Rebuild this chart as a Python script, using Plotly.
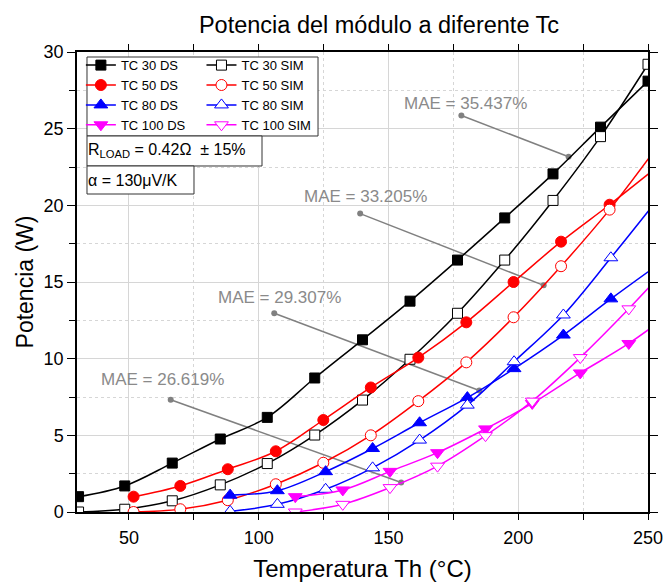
import plotly.graph_objects as go

# Temperatures (Th, degC) and power (W)
t_30 = [30.6, 48.4, 66.7, 85.2, 103.3, 121.6, 140.0, 158.3, 176.6, 194.8, 213.4, 231.7, 250.0]
p_30_ds = [1.0, 1.70, 3.19, 4.76, 6.17, 8.74, 11.23, 13.75, 16.43, 19.18, 22.05, 25.1, 28.1]
p_30_sim = [0.0, 0.18, 0.73, 1.77, 3.16, 5.02, 7.3, 9.96, 12.96, 16.43, 20.32, 24.48, 29.2]

t_50 = [51.8, 69.8, 88.1, 106.6, 124.9, 143.2, 161.5, 180.0, 198.2, 216.5, 235.2, 253.5]
p_50_ds = [1.0, 1.70, 2.79, 3.96, 6.0, 8.12, 10.07, 12.37, 15.0, 17.63, 20.04, 22.5]
p_50_sim = [0.0, 0.18, 0.77, 1.81, 3.21, 5.0, 7.23, 9.76, 12.7, 16.03, 19.72, 23.8]

t_80 = [89.0, 107.2, 125.8, 143.9, 162.0, 180.4, 198.4, 217.4, 235.7, 254.0]
p_80_ds = [1.1, 1.39, 2.63, 4.14, 5.82, 7.46, 9.35, 11.54, 13.9, 16.15]
p_80_sim = [0.04, 0.5, 1.48, 2.88, 4.69, 6.97, 9.8, 12.85, 16.58, 20.45]

t_100 = [114.1, 132.4, 150.6, 168.9, 187.4, 205.4, 223.9, 242.6, 261.0]
p_100_ds = [1.0, 1.44, 2.65, 3.87, 5.42, 7.08, 9.07, 10.99, 13.25]
p_100_sim = [0.0, 0.5, 1.59, 2.99, 4.98, 7.23, 10.07, 13.25, 16.6]

# MAE callouts
mae_text = ["MAE = 35.437%", "MAE = 33.205%", "MAE = 29.307%", "MAE = 26.619%"]
mae_text_x = [179.5, 141.1, 108.2, 62.9]
mae_text_y = [26.64, 20.6, 14.01, 8.63]
mae_x0 = [178.1, 139.1, 106.0, 66.1]
mae_y0 = [25.86, 19.46, 12.96, 7.32]
mae_x1 = [219.4, 209.8, 185.0, 154.9]
mae_y1 = [23.17, 14.78, 7.92, 1.92]

FONT = "Arial, Liberation Sans, sans-serif"

fig = go.Figure()


def add_series(t, p, name, color, symbol, filled, legend, size):
    fig.add_trace(go.Scatter(
        x=t, y=p, name=name, mode="lines+markers", legend=legend,
        line=dict(color=color, width=1.5, shape="spline"),
        marker=dict(symbol=symbol, size=size, color=color if filled else "white",
                    line=dict(color=color, width=1))))


# MAE leader lines (drawn first so the series sit on top)
for i in range(len(mae_text)):
    fig.add_trace(go.Scatter(x=[mae_x0[i], mae_x1[i]], y=[mae_y0[i], mae_y1[i]],
                             mode="lines+markers", showlegend=False, hoverinfo="skip",
                             line=dict(color="#808080", width=1.5),
                             marker=dict(size=6, color="#808080")))
    fig.add_annotation(x=mae_text_x[i], y=mae_text_y[i], text=mae_text[i], showarrow=False,
                       font=dict(size=17, color="#8a8a8a", family=FONT))

add_series(t_30, p_30_ds, "TC 30 DS", "black", "square", True, "legend", 10)
add_series(t_30, p_30_sim, "TC 30 SIM", "black", "square", False, "legend2", 10)
add_series(t_50, p_50_ds, "TC 50 DS", "red", "circle", True, "legend", 11)
add_series(t_50, p_50_sim, "TC 50 SIM", "red", "circle", False, "legend2", 11)
add_series(t_80, p_80_ds, "TC 80 DS", "blue", "triangle-up", True, "legend", 12)
add_series(t_80, p_80_sim, "TC 80 SIM", "blue", "triangle-up", False, "legend2", 12)
add_series(t_100, p_100_ds, "TC 100 DS", "magenta", "triangle-down", True, "legend", 12)
add_series(t_100, p_100_sim, "TC 100 SIM", "magenta", "triangle-down", False, "legend2", 12)

# legend / info boxes
box_line = dict(color="#333333", width=1)
fig.add_shape(type="rect", xref="paper", yref="paper", x0=0.0175, x1=0.4221, y0=0.8174, y1=0.9891,
              line=box_line, fillcolor="white", layer="above")
fig.add_shape(type="rect", xref="paper", yref="paper", x0=0.0175, x1=0.324, y0=0.7522, y1=0.8174,
              line=box_line, fillcolor="white", layer="above")
fig.add_shape(type="rect", xref="paper", yref="paper", x0=0.0175, x1=0.2049, y0=0.6913, y1=0.7522,
              line=box_line, fillcolor="white", layer="above")
fig.add_annotation(xref="paper", yref="paper", x=0.016, y=0.7848, xanchor="left", yanchor="middle",
                   text="R<sub>LOAD</sub> = 0.42\u03a9  \u00b1 15%", showarrow=False,
                   font=dict(size=16, color="black", family=FONT))
fig.add_annotation(xref="paper", yref="paper", x=0.016, y=0.7217, xanchor="left", yanchor="middle",
                   text="\u03b1 = 130\u03bcV/K", showarrow=False,
                   font=dict(size=16, color="black", family=FONT))

legend_common = dict(bgcolor="rgba(0,0,0,0)", borderwidth=0, yanchor="top", xanchor="left",
                     font=dict(size=13, color="black", family=FONT), tracegroupgap=0)
fig.update_layout(
    legend=dict(x=0.0068, y=1.004, **legend_common),
    legend2=dict(x=0.218, y=1.004, **legend_common),
)

axis_common = dict(showline=True, linecolor="black", linewidth=1.5, mirror="allticks",
                   ticks="outside", tickcolor="black", tickwidth=1, automargin=False,
                   showgrid=True, gridcolor="#d6d6d6", gridwidth=1, zeroline=False,
                   tickfont=dict(size=18, color="black", family=FONT))

fig.update_xaxes(range=[30, 250], tick0=0, dtick=50, ticklen=6, ticklabelstandoff=3,
                 minor=dict(dtick=25, ticks="outside", ticklen=6, tickcolor="black",
                            showgrid=True, gridcolor="#d6d6d6", griddash="dot"),
                 title=dict(text="Temperatura Th (\u00b0C)", font=dict(size=24, color="black", family=FONT),
                            standoff=13),
                 **axis_common)
fig.update_yaxes(range=[0, 30], tick0=0, dtick=5, ticklen=8,
                 minor=dict(dtick=2.5, ticks="outside", ticklen=6, tickcolor="black",
                            showgrid=True, gridcolor="#d6d6d6", griddash="dot"),
                 title=dict(text="Potencia (W)", font=dict(size=23, color="black", family=FONT),
                            standoff=4),
                 **axis_common)

fig.update_layout(
    title=dict(text="Potencia del módulo a diferente Tc", x=379 / 664, xanchor="center",
               y=1 - 25 / 586, yanchor="middle", font=dict(size=23.5, color="black", family=FONT)),
    width=664, height=586,
    margin=dict(l=77, r=16, t=52, b=74),
    paper_bgcolor="white", plot_bgcolor="white",
    font=dict(family=FONT),
)

# drop the default 8px page margin so the figure fills the window exactly
fig.write_html("out.html", config={"displayModeBar": False},
               post_script="document.body.style.margin = '0';")
